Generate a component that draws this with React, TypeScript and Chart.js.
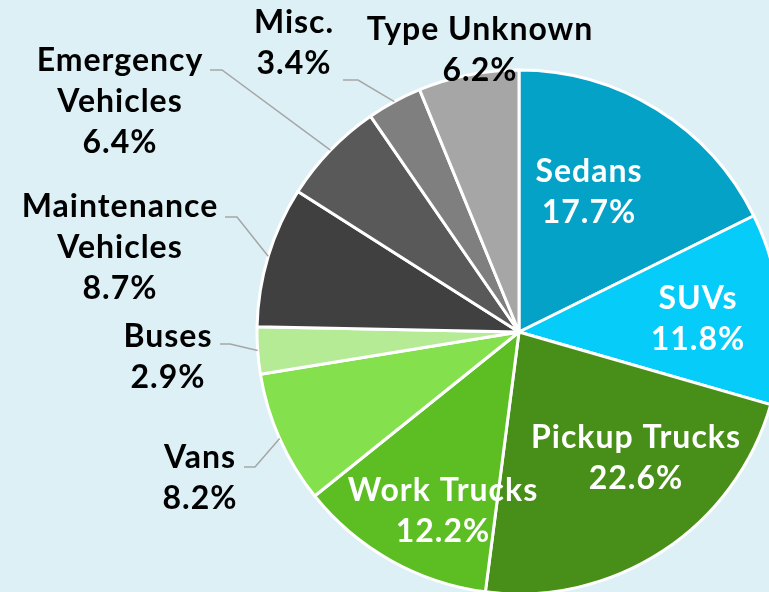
import React, { useEffect, useRef } from "react";
import { Chart, registerables } from "chart.js";

Chart.register(...registerables);

// ---- data ----
const categories = [
  "Sedans",
  "SUVs",
  "Pickup Trucks",
  "Work Trucks",
  "Vans",
  "Buses",
  "Maintenance Vehicles",
  "Emergency Vehicles",
  "Misc.",
  "Type Unknown",
];
const values = [17.7, 11.8, 22.6, 12.2, 8.2, 2.9, 8.7, 6.4, 3.4, 6.2];
const labelLines = [
  ["Sedans"],
  ["SUVs"],
  ["Pickup Trucks"],
  ["Work Trucks"],
  ["Vans"],
  ["Buses"],
  ["Maintenance", "Vehicles"],
  ["Emergency", "Vehicles"],
  ["Misc."],
  ["Type Unknown"],
];
const colors = [
  "#04A2C6",
  "#05CCF9",
  "#488F1A",
  "#5CBE22",
  "#84E04D",
  "#B4EB94",
  "#404040",
  "#595959",
  "#7F7F7F",
  "#A6A6A6",
];

// ---- label layout (offsets from pie centre, px) ----
type Lay = { dx: number; dy: number; inside: boolean; lead?: [number, number]; elbow?: number };
const labelLayout: Lay[] = [
  { dx: 70, dy: -140, inside: true },
  { dx: 179, dy: -13, inside: true },
  { dx: 117, dy: 126, inside: true },
  { dx: -76, dy: 179, inside: true },
  { dx: -319, dy: 146, inside: false, lead: [-275, 135], elbow: 11 },
  { dx: -351, dy: 25, inside: false, lead: [-299, 12], elbow: 10 },
  { dx: -399, dy: -84, inside: false, lead: [-294, -115], elbow: 12 },
  { dx: -399, dy: -230, inside: false, lead: [-309, -262], elbow: 12 },
  { dx: -225, dy: -289, inside: false, lead: [-176, -252], elbow: 15 },
  { dx: -39, dy: -282, inside: false },
];

const FONT = "bold 32px Lato";
const LINE_H = 41;

const labelPlugin = {
  id: "sliceLabels",
  afterDatasetsDraw(chart: any) {
    const ctx = chart.ctx as CanvasRenderingContext2D;
    const meta = chart.getDatasetMeta(0);
    meta.data.forEach((arc: any, i: number) => {
      const p = arc.getProps(["x", "y", "startAngle", "endAngle", "outerRadius"], true);
      const mid = (p.startAngle + p.endAngle) / 2;
      const L = labelLayout[i];
      const lines = [...labelLines[i], values[i].toFixed(1) + "%"];
      ctx.save();
      if (L.lead) {
        const ex = p.x + Math.cos(mid) * p.outerRadius;
        const ey = p.y + Math.sin(mid) * p.outerRadius;
        const sx = p.x + L.lead[0];
        const sy = p.y + L.lead[1];
        ctx.strokeStyle = "#A6A6A6";
        ctx.lineWidth = 1.5;
        ctx.beginPath();
        ctx.moveTo(sx, sy);
        ctx.lineTo(sx + (L.elbow || 0), sy);
        ctx.lineTo(ex, ey);
        ctx.stroke();
      }
      ctx.font = FONT;
      (ctx as any).letterSpacing = "1px";
      ctx.textAlign = "center";
      ctx.textBaseline = "middle";
      ctx.fillStyle = L.inside ? "#FFFFFF" : "#000000";
      const cx = p.x + L.dx;
      const cy = p.y + L.dy;
      const n = lines.length;
      lines.forEach((t, k) => {
        ctx.fillText(t, cx, cy + (k - (n - 1) / 2) * LINE_H);
      });
      ctx.restore();
    });
  },
};

export default function App() {
  const ref = useRef<HTMLCanvasElement | null>(null);
  useEffect(() => {
    if (!ref.current) return;
    const chart = new Chart(ref.current, {
      type: "pie",
      data: {
        labels: categories,
        datasets: [
          {
            data: values,
            backgroundColor: colors,
            borderColor: "#FFFFFF",
            borderWidth: 3,
          },
        ],
      },
      options: {
        responsive: false,
        devicePixelRatio: 1,
        animation: false,
        radius: 262,
        layout: { padding: 0 },
        plugins: {
          legend: { display: false },
          tooltip: { enabled: false },
        },
      } as any,
      plugins: [labelPlugin],
    });
    return () => chart.destroy();
  }, []);
  return (
    <div
      style={{
        position: "fixed",
        left: 0,
        top: 0,
        width: 769,
        height: 592,
        overflow: "hidden",
        background: "#DCF0F6",
      }}
    >
      <canvas
        ref={ref}
        width={1038}
        height={664}
        style={{ position: "absolute", left: 0, top: 0, width: 1038, height: 664 }}
      />
    </div>
  );
}
